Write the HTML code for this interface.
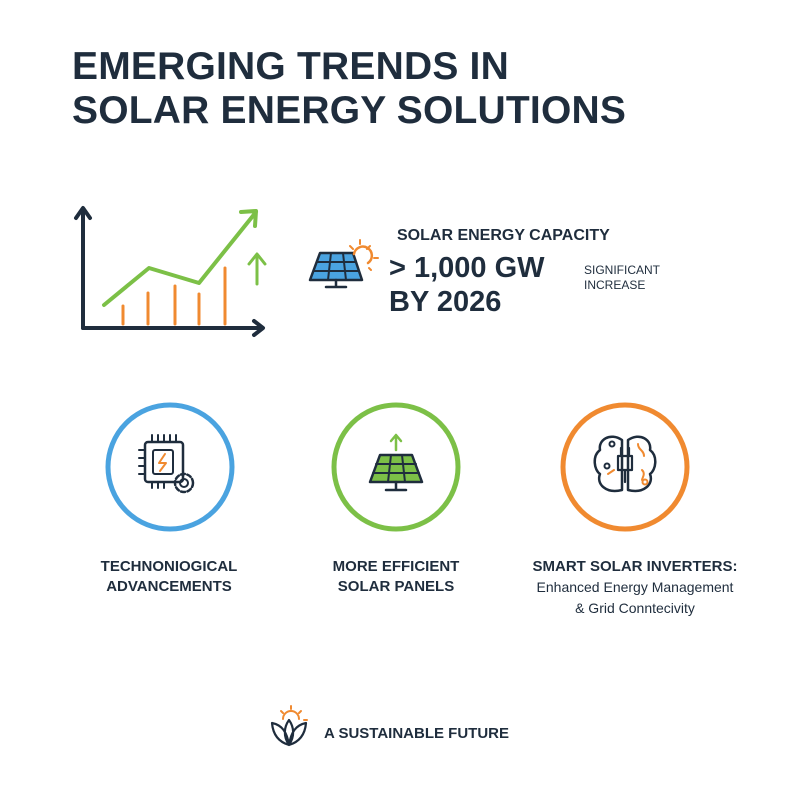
<!DOCTYPE html>
<html><head><meta charset="utf-8"><style>
body{margin:0;width:800px;height:800px;background:#fff;font-family:"Liberation Sans",sans-serif;color:#1f2d3d;position:relative;overflow:hidden}
.t{position:absolute;font-weight:bold;white-space:nowrap}
</style></head><body>
<div class="t" style="left:72px;top:45px;font-size:39px;line-height:44px;letter-spacing:0.2px">EMERGING TRENDS IN<br>SOLAR ENERGY SOLUTIONS</div>

<svg width="800" height="800" style="position:absolute;left:0;top:0">
<g fill="none" stroke-linecap="round" stroke-linejoin="round">
 <path d="M83,328 V210 M76,218 L83,208 L90,218" stroke="#1f2d3d" stroke-width="4"/>
 <path d="M83,328 H262 M254,321 L263,328 L254,335" stroke="#1f2d3d" stroke-width="4"/>
 <g stroke="#f08a30" stroke-width="3">
  <path d="M123,324V306 M148,324V293 M175,324V286 M199,324V294 M225,324V268"/>
 </g>
 <path d="M104,305 L149,268 L199,283 L256,212 M241,212 L256,211 L255,226" stroke="#7cc047" stroke-width="4"/>
 <path d="M257,284 V256 M249,264 L257,254 L265,264" stroke="#7cc047" stroke-width="3"/>
 <path d="M320,253 H353 L362,280 H310 Z" stroke="#1f2d3d" stroke-width="2.5" fill="#4aa3e0"/>
 <path d="M317,262 H356 M314,271 H359 M331,253 L328,280 M343,253 L346,280" stroke="#1f2d3d" stroke-width="2"/>
 <path d="M336,280 V287 M326,287 H346" stroke="#1f2d3d" stroke-width="2.5"/>
 <path d="M354,254 A9,9 0 1 1 368,263" stroke="#f08a30" stroke-width="2.5"/>
 <path d="M360,240v4 M350,246l3,3 M370,246l-3,3 M374,258h4 M369,268l2,2" stroke="#f08a30" stroke-width="2"/>
 <circle cx="170" cy="467" r="62" stroke="#4aa3e0" stroke-width="5"/>
 <circle cx="396" cy="467" r="62" stroke="#7cc047" stroke-width="5"/>
 <circle cx="625" cy="467" r="62" stroke="#f08a30" stroke-width="5"/>
 <rect x="145" y="442" width="38" height="40" rx="3" stroke="#1f2d3d" stroke-width="2.5"/>
 <rect x="153" y="450" width="20" height="24" rx="2" stroke="#1f2d3d" stroke-width="2"/>
 <path d="M165,454 L159,463 H166 L160,471" stroke="#f08a30" stroke-width="2"/>
 <path d="M152,442v-7 M158,442v-7 M164,442v-7 M170,442v-7 M176,442v-7 M145,450h-6 M145,458h-6 M145,466h-6 M145,474h-6 M152,482v6 M158,482v6 M164,482v6" stroke="#1f2d3d" stroke-width="2"/>
 <circle cx="184" cy="483" r="9" stroke="#1f2d3d" stroke-width="2.5" stroke-dasharray="4 2.5"/>
 <circle cx="184" cy="483" r="4" stroke="#1f2d3d" stroke-width="2"/>
 <path d="M380,455 H412 L422,482 H370 Z" stroke="#1f2d3d" stroke-width="2.5" fill="#7cc047"/>
 <path d="M376,464 H416 M373,473 H419 M391,455 L388,482 M402,455 L405,482" stroke="#1f2d3d" stroke-width="2"/>
 <path d="M396,482 V490 M386,490 H406" stroke="#1f2d3d" stroke-width="2.5"/>
 <path d="M396,450 V436 M391,441 L396,435 L401,441" stroke="#7cc047" stroke-width="2.5"/>
 <path d="M622,440 C610,432 598,440 600,450 C592,456 594,470 600,474 C596,484 606,494 622,490 Z" stroke="#1f2d3d" stroke-width="2.5"/>
 <path d="M628,440 C640,432 652,440 650,450 C658,456 656,470 650,474 C654,484 644,494 628,490 Z" stroke="#1f2d3d" stroke-width="2.5"/>
 <path d="M618,456 h14 v14 h-14 z M621,456 v-8 M629,456 v-8 M625,470 v12" stroke="#1f2d3d" stroke-width="2.2"/>
 <path d="M638,444 c0,6 6,6 6,12 M642,470 c4,4 0,8 0,10 M608,474 l6,-4" stroke="#f08a30" stroke-width="2"/>
 <circle cx="607" cy="466" r="2.5" stroke="#1f2d3d" stroke-width="2"/>
 <circle cx="612" cy="444" r="2.5" stroke="#1f2d3d" stroke-width="2"/>
 <circle cx="645" cy="482" r="2.5" stroke="#f08a30" stroke-width="2"/>
 <path d="M289,745 C279,742 273,735 272,723 C282,725 287,732 289,745 Z M289,745 C299,742 305,735 306,723 C296,725 291,732 289,745 Z M289,745 C283,736 284,727 289,720 C294,727 295,736 289,745 Z" stroke="#1f2d3d" stroke-width="2.2"/>
 <path d="M283,719 a8,8 0 0 1 16,0 M291,706v3 M281,711l2,2 M301,711l-2,2 M304,720h3" stroke="#f08a30" stroke-width="2"/>
</g>
</svg>

<div class="t" style="left:397px;top:227px;font-size:16px">SOLAR ENERGY CAPACITY</div>
<div class="t" style="left:389px;top:251px;font-size:29px;line-height:34px">&gt; 1,000 GW<br>BY 2026</div>
<div class="t" style="left:584px;top:263px;font-size:12px;line-height:15px;font-weight:normal">SIGNIFICANT<br>INCREASE</div>

<div class="t" style="left:92px;top:557px;font-size:15px;line-height:20px;text-align:center;width:154px">TECHNONIOGICAL<br>ADVANCEMENTS</div>
<div class="t" style="left:316px;top:557px;font-size:15px;line-height:20px;text-align:center;width:160px">MORE EFFICIENT<br>SOLAR PANELS</div>
<div class="t" style="left:520px;top:557px;font-size:15px;line-height:20px;text-align:center;width:230px">SMART SOLAR INVERTERS:<br><span style="font-weight:normal;font-size:14px">Enhanced Energy Management<br>&amp; Grid Conntecivity</span></div>

<div class="t" style="left:324px;top:725px;font-size:15px">A SUSTAINABLE FUTURE</div>
</body></html>
